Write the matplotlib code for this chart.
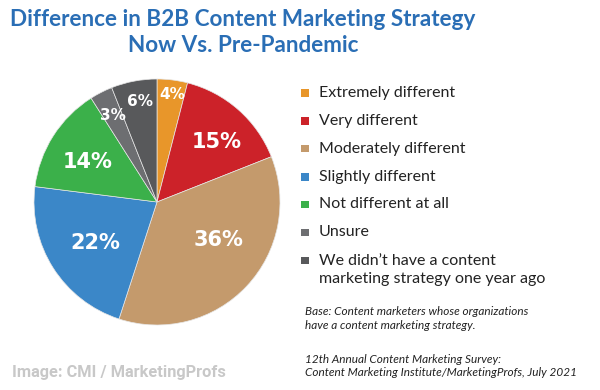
import matplotlib
matplotlib.use("Agg")
import matplotlib.pyplot as plt
import numpy as np

categories = ["Extremely different", "Very different", "Moderately different",
              "Slightly different", "Not different at all", "Unsure",
              "We didn\u2019t have a content\nmarketing strategy one year ago"]
values = [4, 15, 36, 22, 14, 3, 6]
labels = ["4%", "15%", "36%", "22%", "14%", "3%", "6%"]
colors = ["#E8962A", "#CC2229", "#C49A6C", "#3B87C8", "#3BB04A", "#6D6E71", "#58595B"]
label_r = [0.88, 0.69, 0.59, 0.60, 0.65, 0.79, 0.83]
label_dang = [-1, -3.6, 11.7, 1, 2.4, 0, -1]
label_size = [11, 15, 15, 15, 15, 11, 11]

fig = plt.figure(figsize=(6, 3.9), dpi=100)
fig.patch.set_facecolor("white")

ax = fig.add_axes([(157 - 123) / 600, (390 - 325) / 390, 246 / 600, 246 / 390])
wedges, _ = ax.pie(values, colors=colors, startangle=90, counterclock=False,
                   radius=1, wedgeprops=dict(edgecolor="#e6e6e6", linewidth=0.5))
ax.set_xlim(-1, 1)
ax.set_ylim(-1, 1)
ax.set_aspect("equal")
ax.axis("off")

for w, lab, r, da, fs in zip(wedges, labels, label_r, label_dang, label_size):
    ang = np.deg2rad((w.theta1 + w.theta2) / 2 + da)
    ax.text(r * np.cos(ang), r * np.sin(ang), lab, ha="center", va="center",
            color="white", fontsize=fs, fontweight="bold", family="DejaVu Sans")

# Title
title_font = dict(ha="center", va="center", fontsize=16.2, fontweight="bold",
                  color="#2A6EB5", family="Lato")
fig.text(243 / 600, 1 - 19 / 390, "Difference in B2B Content Marketing Strategy", **title_font)
fig.text(243 / 600, 1 - 46 / 390, "Now Vs. Pre-Pandemic", **title_font)

# Legend
ys = [93, 121, 149, 177, 204, 232, 260]
for y, c, cat in zip(ys, colors, categories):
    fig.patches.append(plt.Rectangle(((305 - 3.5) / 600, 1 - (y + 3.5) / 390), 7 / 600, 7 / 390,
                                     transform=fig.transFigure, facecolor=c, edgecolor="none"))
    if "\n" in cat:
        fig.text(319 / 600, 1 - (y + 10) / 390, cat, ha="left", va="center",
                 fontsize=11.5, color="#222222", family="Lato", linespacing=1.3)
    else:
        fig.text(319 / 600, 1 - y / 390, cat, ha="left", va="center",
                 fontsize=11.5, color="#222222", family="Lato")

# Footnotes
foot = dict(ha="left", va="center", fontsize=8.5, style="italic", color="#222222",
            family="Lato", linespacing=1.3)
fig.text(305 / 600, 1 - 318.5 / 390,
         "Base: Content marketers whose organizations\nhave a content marketing strategy.", **foot)
fig.text(305 / 600, 1 - 366 / 390,
         "12th Annual Content Marketing Survey:\nContent Marketing Institute/MarketingProfs, July 2021",
         **foot)

fig.text(12 / 600, 1 - 372 / 390, "Image: CMI / MarketingProfs", ha="left", va="center",
         fontsize=11.8, fontweight="bold", color="#C8C8C8", family="Roboto")

fig.savefig("out.png", dpi=100, facecolor="white")
